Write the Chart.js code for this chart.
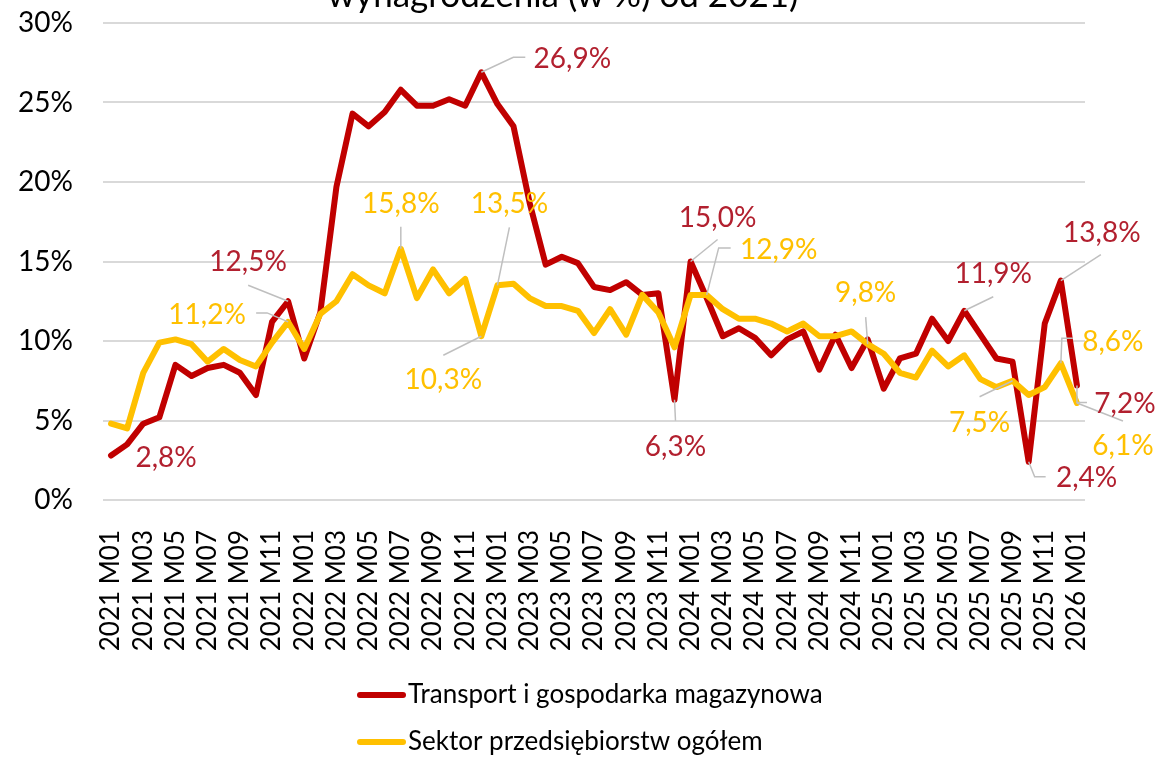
<!DOCTYPE html>
<html>
<head>
<meta charset="utf-8">
<script src="https://cdn.jsdelivr.net/npm/chart.js@4.4.1/dist/chart.umd.min.js"></script>
<style>
html,body{margin:0;padding:0;background:#fff;}
</style>
</head>
<body>
<canvas id="chart" width="1158" height="757"></canvas>
<script>
// kategorie: 2021 M01 .. 2026 M01
const years=[2021,2022,2023,2024,2025,2026];
const months=[];
years.forEach(y=>{
    for(let m=1;m<=12;m++){
        if(y===2026 && m>1) break;
        months.push(y+' M'+(m<10?'0'+m:m));
    }
});

const transport=[
    2.8,3.5,4.8,5.2,8.5,7.8,8.3,8.5,8.0,6.6,11.2,12.5,
    8.9,11.8,19.7,24.3,23.5,24.4,25.8,24.8,24.8,25.2,24.8,26.9,
    24.9,23.5,18.7,14.8,15.3,14.9,13.4,13.2,13.7,12.9,13.0,6.3,
    15.0,12.7,10.3,10.8,10.2,9.1,10.1,10.6,8.2,10.4,8.3,10.1,
    7.0,8.9,9.2,11.4,10.0,11.9,10.4,8.9,8.7,2.4,11.1,13.8,
    7.2
];
const sektor=[
    4.8,4.5,8.0,9.9,10.1,9.8,8.7,9.5,8.8,8.4,9.9,11.2,
    9.5,11.7,12.5,14.2,13.5,13.0,15.8,12.7,14.5,13.0,13.9,10.3,
    13.5,13.6,12.7,12.2,12.2,11.9,10.5,12.0,10.4,12.9,11.8,9.6,
    12.9,12.9,12.0,11.4,11.4,11.1,10.6,11.1,10.3,10.3,10.6,9.8,
    9.2,8.0,7.7,9.4,8.4,9.1,7.6,7.1,7.5,6.6,7.1,8.6,
    6.1
];
const seriesNames=['Transport i gospodarka magazynowa','Sektor przedsiębiorstw ogółem'];
const yTicks=[0,5,10,15,20,25,30];
const titleText='wynagrodzenia (w %) od 2021)';

// indeksy punktów z etykietą
const labeledTransport=[0,11,23,35,36,53,57,59,60];
const labeledSektor=[11,18,23,24,37,47,56,59,60];

const FONT="Lato, 'Liberation Sans', sans-serif";
const RED='#C00000', YELLOW='#FFC000', RED_TXT='#B2202F';

// położenie etykiet względem punktu + linie odniesienia (px)
const labelPlaceT={
    0:{dx:55,dy:2,lead:[]},
    11:{dx:-40,dy:-39,lead:[[-40,-16],[0,0]]},
    23:{dx:91,dy:-13,lead:[[44,-15],[32,-15],[0,0]]},
    35:{dx:1,dy:47,lead:[[1,21],[0,0]]},
    36:{dx:27,dy:-44,lead:[[27,-22],[0,0]]},
    53:{dx:29,dy:-37,lead:[[29,-14],[0,0]]},
    57:{dx:58,dy:16,lead:[[17,15],[6,15],[0,0]]},
    59:{dx:41,dy:-48,lead:[[40,-26],[0,0]]},
    60:{dx:48,dy:18,lead:[[10,17],[0,17],[0,0]]}
};
const labelPlaceS={
    11:{dx:-81,dy:-7,lead:[[-32,-9],[-21,-9],[0,0]]},
    18:{dx:0,dy:-45,lead:[[0,-22],[0,0]]},
    23:{dx:-38,dy:44,lead:[[-38,19],[0,0]]},
    24:{dx:12,dy:-81,lead:[[12,-58],[0,0]]},
    37:{dx:72,dy:-45,lead:[[24,-47],[12,-47],[0,0]]},
    47:{dx:-2,dy:-51,lead:[[-2,-27],[0,0]]},
    56:{dx:-33,dy:42,lead:[[-33,16],[0,0]]},
    59:{dx:52,dy:-21,lead:[[12,-25],[1,-25],[0,0]]},
    60:{dx:46,dy:43,lead:[[46,18],[0,0]]}
};

function fmt(v){
    return v.toFixed(1).replace('.',',')+'%';
}

const extras={
    id:'extras',
    afterDatasetsDraw(chart){
        const ctx=chart.ctx;
        const sets=[
            {ds:0,idx:labeledTransport,place:labelPlaceT,color:RED_TXT},
            {ds:1,idx:labeledSektor,place:labelPlaceS,color:YELLOW}
        ];
        ctx.save();
        // linie odniesienia
        ctx.strokeStyle='#BFBFBF';
        ctx.lineWidth=1.5;
        sets.forEach(s=>{
            const meta=chart.getDatasetMeta(s.ds);
            s.idx.forEach(i=>{
                const p=meta.data[i];
                const pl=s.place[i];
                if(!pl.lead.length) return;
                ctx.beginPath();
                pl.lead.forEach((q,k)=>{
                    if(k===0) ctx.moveTo(p.x+q[0],p.y+q[1]);
                    else ctx.lineTo(p.x+q[0],p.y+q[1]);
                });
                ctx.stroke();
            });
        });
        // etykiety
        ctx.font='28px '+FONT;
        ctx.textAlign='center';
        ctx.textBaseline='middle';
        sets.forEach(s=>{
            const meta=chart.getDatasetMeta(s.ds);
            const vals=chart.data.datasets[s.ds].data;
            ctx.fillStyle=s.color;
            s.idx.forEach(i=>{
                const p=meta.data[i];
                const pl=s.place[i];
                ctx.fillText(fmt(vals[i]),p.x+pl.dx,p.y+pl.dy);
            });
        });
        ctx.restore();
    },
    afterDraw(chart){
        const ctx=chart.ctx;
        ctx.save();
        // tytuł (ucięty u góry)
        ctx.fillStyle='#000';
        ctx.font='35px '+FONT;
        ctx.textAlign='center';
        ctx.textBaseline='alphabetic';
        ctx.fillText(titleText,563,7);
        // legenda
        ctx.font='26px '+FONT;
        ctx.textAlign='left';
        ctx.textBaseline='middle';
        chart.data.datasets.forEach((d,k)=>{
            const y=695+k*47;
            ctx.strokeStyle=d.borderColor;
            ctx.lineWidth=6;
            ctx.lineCap='round';
            ctx.beginPath();
            ctx.moveTo(360,y);
            ctx.lineTo(403,y);
            ctx.stroke();
            ctx.fillStyle='#000';
            ctx.fillText(d.label,408,y);
        });
        ctx.restore();
    }
};

new Chart(document.getElementById('chart'),{
    type:'line',
    data:{
        labels:months,
        datasets:[
            {label:seriesNames[0],data:transport,borderColor:RED,backgroundColor:RED,borderWidth:6,pointRadius:0,tension:0,borderJoinStyle:'round',borderCapStyle:'round',order:1},
            {label:seriesNames[1],data:sektor,borderColor:YELLOW,backgroundColor:YELLOW,borderWidth:6,pointRadius:0,tension:0,borderJoinStyle:'round',borderCapStyle:'round',order:0}
        ]
    },
    options:{
        responsive:false,
        animation:false,
        layout:{padding:{top:23,right:73,bottom:107,left:0}},
        plugins:{legend:{display:false},tooltip:{enabled:false},title:{display:false}},
        scales:{
            x:{
                offset:true,
                grid:{display:false},
                border:{display:false},
                ticks:{
                    autoSkip:false,maxRotation:90,minRotation:90,padding:22,
                    color:'#000',font:{family:FONT,size:26},
                    callback:function(v,i){return i%2===0?this.getLabelForValue(v):'';}
                },
                afterFit:s=>{s.height=150;}
            },
            y:{
                min:0,max:30,
                afterBuildTicks:s=>{s.ticks=yTicks.map(v=>({value:v}));},
                grid:{color:'#D9D9D9',lineWidth:2,drawTicks:false},
                border:{display:false},
                ticks:{padding:30,color:'#000',font:{family:FONT,size:28},callback:v=>v+'%'},
                afterFit:s=>{s.width=103;s.paddingTop=0;s.paddingBottom=0;}
            }
        }
    },
    plugins:[extras]
});
</script>
</body>
</html>
